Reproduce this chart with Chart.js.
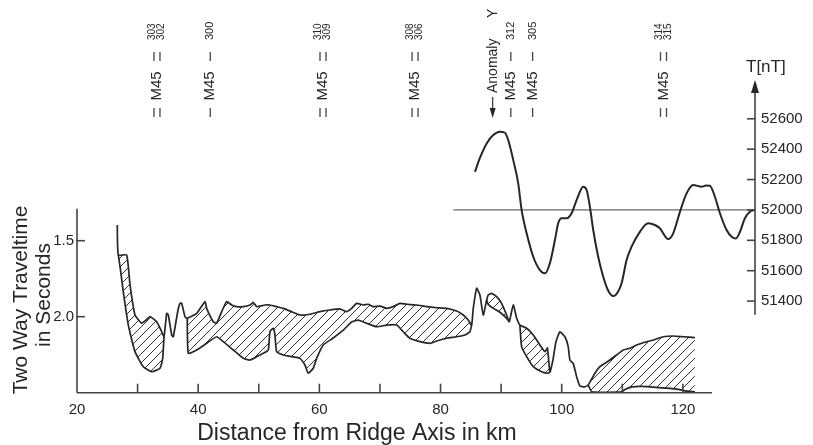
<!DOCTYPE html>
<html>
<head>
<meta charset="utf-8">
<script src="https://cdn.jsdelivr.net/npm/chart.js@4.4.1/dist/chart.umd.min.js"></script>
<style>
  html, body { margin: 0; padding: 0; background: #fff; }
  #wrap { width: 813px; height: 445px; }
</style>
</head>
<body>
<div id="wrap"><canvas id="profileChart" width="813" height="445"></canvas></div>
<script>
// Seafloor reflector: distance from ridge axis (km) and two way traveltime (s)
const seafloorKm = [26.65, 26.82, 28.20, 28.75, 29.57, 30.68, 31.39, 32.05, 33.15, 33.98, 34.36, 34.80, 35.07, 35.63, 35.89, 36.67, 37.00, 37.28, 37.82, 38.20,
    39.75, 41.12, 41.40, 42.49, 43.05, 43.88, 44.70, 45.53, 46.35, 47.44, 48.55, 49.09, 49.65, 51.02, 51.85, 52.95, 54.04, 55.43, 56.80, 58.45,
    60.10, 61.75, 63.40, 64.50, 65.33, 66.16, 67.24, 68.07, 68.89, 70.00, 71.11, 72.19, 73.30, 74.41, 76.06, 77.71, 79.36, 81.01, 82.66, 83.75,
    84.57, 85.13, 85.40, 85.96, 86.50, 87.05, 87.61, 87.87, 88.43, 89.26, 90.08, 90.91, 91.34, 92.00, 92.56, 93.10, 94.21, 95.30, 96.40, 97.23,
    97.64, 98.05, 98.55, 99.04, 99.70, 100.53, 101.07, 101.35, 101.90, 102.46, 103.00, 103.83, 104.37, 105.48, 106.30, 107.13, 107.95, 109.06, 110.15, 111.25,
    112.36, 113.45, 115.10, 116.75, 118.40, 120.05, 121.98];
const seafloorTwt = [1.397, 1.594, 1.594, 1.791, 1.989, 2.043, 2.022, 2.000, 2.033, 2.099, 2.132, 1.978, 1.989, 2.120, 2.132, 1.956, 1.912, 1.912, 2.000, 2.011,
    1.978, 1.901, 1.945, 2.033, 2.043, 1.967, 1.901, 1.923, 1.934, 1.934, 1.923, 1.905, 1.934, 1.923, 1.923, 1.934, 1.945, 1.967, 1.989, 1.984,
    1.967, 1.956, 1.949, 1.967, 1.945, 1.912, 1.923, 1.918, 1.934, 1.930, 1.945, 1.934, 1.912, 1.918, 1.923, 1.934, 1.941, 1.945, 1.963, 1.989,
    2.022, 2.055, 1.945, 1.813, 1.857, 1.989, 1.890, 1.857, 1.846, 1.868, 1.912, 1.989, 2.033, 1.923, 2.009, 2.055, 2.076, 2.120, 2.186, 2.230,
    2.206, 2.364, 2.285, 2.166, 2.099, 2.132, 2.197, 2.285, 2.307, 2.395, 2.456, 2.461, 2.449, 2.372, 2.329, 2.307, 2.285, 2.252, 2.219, 2.208,
    2.186, 2.171, 2.153, 2.132, 2.127, 2.132, 2.138];

// Basement reflector, only where sediment is present (null = gap)
const basementKm = [26.82, 27.18, 27.64, 28.47, 29.57, 30.94, 32.33, 33.70, 34.14, 34.36, null,
    38.20, 38.37, 39.75, 41.40, 43.05, 44.14, 45.79, 47.44, 48.55, 49.65, 50.74, 51.57, 51.85, 52.39, 52.67, 52.95, 54.04, 55.43, 56.80, 57.62,
    58.17, 58.99, 59.55, 60.64, 62.29, 63.94, 65.33, 66.42, 67.81, 69.46, 71.11, 72.76, 73.84, 74.95, 76.60, 78.25, 79.36, 81.01, 82.66, 84.03,
    84.85, 85.13, null,
    87.61, 87.82, 88.70, 89.80, 90.91, 91.34, null,
    93.10, 93.38, 94.21, 95.30, 96.68, 97.77, 98.05, null,
    104.37, 104.98, 109.93, 110.43, 111.58, 113.07, 116.04, 119.01, 120.17, 121.98];
const basementTwt = [1.594, 1.693, 1.836, 2.055, 2.230, 2.329, 2.362, 2.339, 2.274, 2.132, null,
    2.011, 2.241, 2.219, 2.175, 2.132, 2.164, 2.219, 2.274, 2.285, 2.263, 2.241, 2.219, 2.099, 2.076, 2.120, 2.230, 2.252, 2.263, 2.274, 2.318,
    2.372, 2.339, 2.274, 2.186, 2.140, 2.088, 2.035, 2.022, 2.043, 2.066, 2.055, 2.055, 2.099, 2.142, 2.164, 2.175, 2.160, 2.142, 2.132, 2.120,
    2.099, 2.055, null,
    1.890, 1.916, 1.945, 1.971, 2.011, 2.033, null,
    2.055, 2.197, 2.263, 2.329, 2.362, 2.372, 2.364, null,
    2.449, 2.495, 2.495, 2.479, 2.462, 2.459, 2.466, 2.476, 2.486, 2.495];

// Magnetic total field T (nT)
const magKm = [85.68, 86.50, 87.61, 88.70, 89.80, 90.63, 91.17, 92.00, 92.82, 93.38, 94.21, 95.30, 96.40, 97.23, 98.05, 98.88, 99.42, 99.98,
    100.81, 101.63, 102.46, 103.55, 104.11, 104.65, 105.20, 106.02, 106.85, 107.62, 108.50, 109.27, 109.88, 110.71, 111.53, 112.90, 114.27, 115.38,
    116.20, 117.57, 118.40, 119.50, 120.61, 121.70, 123.09, 123.80, 124.46, 125.28, 126.11, 127.21, 128.09, 128.75, 129.41, 130.23, 131.06, 131.88];
const magNT = [52251, 52342, 52438, 52493, 52515, 52508, 52460, 52328, 52175, 51999, 51846, 51692, 51604, 51583, 51649, 51802, 51912, 51945,
    51945, 51978, 52065, 52153, 52131, 52021, 51868, 51692, 51560, 51473, 51433, 51460, 51517, 51670, 51758, 51856, 51912, 51901,
    51879, 51808, 51846, 51986, 52109, 52164, 52153, 52161, 52159, 52087, 51978, 51868, 51822, 51812, 51855, 51945, 51988, 52000];

// Reference level of the field
const refLevelKm = [82.1, 131.9];
const refLevelNT = [52000, 52000];

// Axis ticks
const distanceLabels = [20, 40, 60, 80, 100, 120];
const distanceTickMarks = [30, 40, 50, 60, 70, 80, 90, 100, 110, 120];
const twtTicks = [1.5, 2.0];
const fieldTicks = [51400, 51600, 51800, 52000, 52200, 52400, 52600];

// Crossing markers along the top
const markerKm = [33.2, 42.0, 60.6, 75.8, 91.6, 95.2, 116.8];
const markerNumbers = [['303', '302'], ['300'], ['310', '309'], ['308', '306'], ['312'], ['305'], ['314', '315']];
const anomalyKm = 88.6;

const ink = '#262626';
const fontFamily = "'Liberation Sans', Arial, sans-serif";

function toPoints(xs, ys) {
    return xs.map((x, i) => ({ x: x, y: ys[i] }));
}

// Diagonal hatch used for the sediment fill
function makeHatch(ctx) {
    const tile = document.createElement('canvas');
    tile.width = 9;
    tile.height = 9;
    const g = tile.getContext('2d');
    g.strokeStyle = '#333';
    g.lineWidth = 1;
    g.beginPath();
    g.moveTo(0, 9); g.lineTo(9, 0);
    g.moveTo(-3, 3); g.lineTo(3, -3);
    g.moveTo(6, 12); g.lineTo(12, 6);
    g.stroke();
    return ctx.createPattern(tile, 'repeat');
}

function drawUp(ctx, text, x, y, align) {
    ctx.save();
    ctx.translate(x, y);
    ctx.rotate(-Math.PI / 2);
    ctx.textAlign = align;
    ctx.textBaseline = 'middle';
    ctx.fillText(text, 0, 0);
    ctx.restore();
}

function line(ctx, x1, y1, x2, y2) {
    ctx.beginPath();
    ctx.moveTo(x1, y1);
    ctx.lineTo(x2, y2);
    ctx.stroke();
}

// Axis lines, inward ticks, titles and the marker labels on top
const decorPlugin = {
    id: 'decor',
    afterDraw(chart) {
        const ctx = chart.ctx;
        const xs = chart.scales.x;
        const ys = chart.scales.y;
        const yt = chart.scales.yT;
        const x0 = xs.getPixelForValue(20);
        const y0 = ys.getPixelForValue(2.5);
        const xr = chart.chartArea.right;

        ctx.save();
        ctx.strokeStyle = '#444';
        ctx.fillStyle = ink;
        ctx.lineWidth = 1.6;

        // left and bottom axes
        line(ctx, x0, ys.getPixelForValue(1.29), x0, y0);
        line(ctx, x0, y0, xs.getPixelForValue(124.8), y0);
        distanceTickMarks.forEach(v => {
            const px = xs.getPixelForValue(v);
            line(ctx, px, y0, px, y0 - 9);
        });
        twtTicks.forEach(v => {
            const py = ys.getPixelForValue(v);
            line(ctx, x0 - 1, py, x0 + 8, py);
        });

        // right field axis with arrow
        const yTop = yt.getPixelForValue(52855);
        line(ctx, xr, yt.getPixelForValue(51310), xr, yTop + 8);
        fieldTicks.forEach(v => {
            const py = yt.getPixelForValue(v);
            line(ctx, xr - 8, py, xr, py);
        });
        ctx.beginPath();
        ctx.moveTo(xr, yTop);
        ctx.lineTo(xr - 4, yTop + 13);
        ctx.lineTo(xr + 4, yTop + 13);
        ctx.closePath();
        ctx.fill();
        ctx.font = '17px ' + fontFamily;
        ctx.textAlign = 'left';
        ctx.textBaseline = 'alphabetic';
        ctx.fillText('T[nT]', xr - 9, yTop - 8);

        // axis titles
        ctx.font = '21px ' + fontFamily;
        drawUp(ctx, 'Two Way Traveltime', 21, 300, 'center');
        drawUp(ctx, 'in Seconds', 44, 295, 'center');
        ctx.font = '23px ' + fontFamily;
        ctx.textAlign = 'center';
        ctx.textBaseline = 'alphabetic';
        ctx.fillText('Distance from Ridge Axis in km', 357, 440);

        // M45 crossing markers
        ctx.lineWidth = 1.3;
        markerKm.forEach((km, i) => {
            const cx = xs.getPixelForValue(km);
            const nums = markerNumbers[i];
            const double = nums.length > 1;
            const barOffs = double ? [-3, 3] : [0];
            const numOffs = double ? [-4.5, 4.5] : [0];
            barOffs.forEach(o => {
                line(ctx, cx + o, 108, cx + o, 117);
                line(ctx, cx + o, 52, cx + o, 61);
            });
            ctx.font = '15px ' + fontFamily;
            drawUp(ctx, 'M45', cx, 86, 'center');
            ctx.font = (double ? '10px ' : '11px ') + fontFamily;
            nums.forEach((n, j) => drawUp(ctx, n, cx + numOffs[j], 40, 'left'));
        });

        // Anomaly Y arrow
        const ax = xs.getPixelForValue(anomalyKm);
        ctx.font = '14px ' + fontFamily;
        drawUp(ctx, 'Anomaly', ax, 93, 'left');
        drawUp(ctx, 'Y', ax, 18, 'left');
        line(ctx, ax, 97, ax, 110);
        ctx.beginPath();
        ctx.moveTo(ax, 118);
        ctx.lineTo(ax - 3, 108);
        ctx.lineTo(ax + 3, 108);
        ctx.closePath();
        ctx.fill();

        ctx.restore();
    }
};

function createProfileChart() {
    const canvas = document.getElementById('profileChart');
    const ctx = canvas.getContext('2d');
    const hatch = makeHatch(ctx);
    const tickFont = { family: fontFamily, size: 15 };

    return new Chart(ctx, {
        type: 'line',
        data: {
            datasets: [{
                label: 'Seafloor',
                data: toPoints(seafloorKm, seafloorTwt),
                xAxisID: 'x',
                yAxisID: 'y',
                borderColor: ink,
                borderWidth: 1.7,
                pointRadius: 0,
                tension: 0.15,
                fill: false
            }, {
                label: 'Basement',
                data: toPoints(basementKm, basementTwt),
                xAxisID: 'x',
                yAxisID: 'y',
                borderColor: ink,
                borderWidth: 1.7,
                pointRadius: 0,
                tension: 0.15,
                spanGaps: false,
                fill: { target: 0, above: hatch, below: hatch }
            }, {
                label: 'T',
                data: toPoints(magKm, magNT),
                xAxisID: 'x',
                yAxisID: 'yT',
                borderColor: ink,
                borderWidth: 2,
                pointRadius: 0,
                cubicInterpolationMode: 'monotone',
                fill: false
            }, {
                label: '52000 nT',
                data: toPoints(refLevelKm, refLevelNT),
                xAxisID: 'x',
                yAxisID: 'yT',
                borderColor: '#444',
                borderWidth: 1,
                pointRadius: 0,
                fill: false
            }]
        },
        options: {
            responsive: false,
            animation: false,
            devicePixelRatio: 1,
            layout: { padding: { top: 88.7, left: 0, right: 0, bottom: 0 } },
            plugins: {
                legend: { display: false },
                tooltip: { enabled: false }
            },
            scales: {
                x: {
                    type: 'linear',
                    position: 'bottom',
                    min: 20,
                    max: 131.9,
                    grid: { display: false, drawTicks: false },
                    border: { display: false },
                    ticks: { font: tickFont, color: ink, padding: 8, autoSkip: false, maxRotation: 0 },
                    afterBuildTicks: s => { s.ticks = distanceLabels.map(v => ({ value: v })); },
                    afterFit: s => { s.height = 52.3; }
                },
                y: {
                    type: 'linear',
                    position: 'left',
                    reverse: true,
                    min: 0.5,
                    max: 2.5,
                    grid: { display: false, drawTicks: false },
                    border: { display: false },
                    ticks: {
                        font: tickFont, color: ink, padding: 3, autoSkip: false,
                        callback: value => value.toFixed(1)
                    },
                    afterBuildTicks: s => { s.ticks = twtTicks.map(v => ({ value: v })); },
                    afterFit: s => { s.width = 77; }
                },
                yT: {
                    type: 'linear',
                    position: 'right',
                    min: 50797,
                    max: 52798,
                    grid: { display: false, drawTicks: false },
                    border: { display: false },
                    ticks: {
                        font: tickFont, color: ink, padding: 6, autoSkip: false,
                        callback: value => String(value)
                    },
                    afterBuildTicks: s => { s.ticks = fieldTicks.map(v => ({ value: v })); },
                    afterFit: s => { s.width = 58; }
                }
            }
        },
        plugins: [decorPlugin]
    });
}

document.addEventListener('DOMContentLoaded', () => {
    createProfileChart();
});
</script>
</body>
</html>
